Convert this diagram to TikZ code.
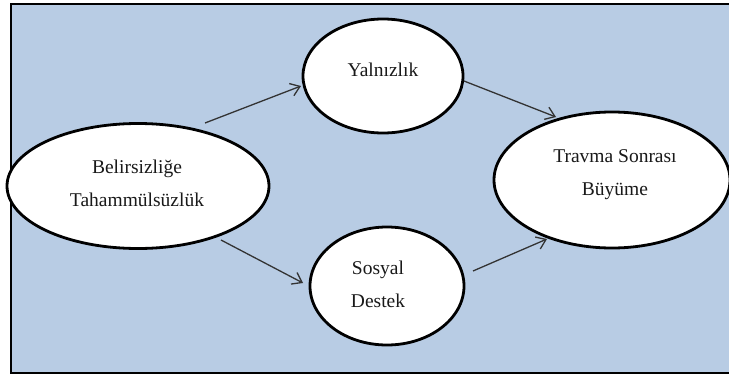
\documentclass[tikz,border=0pt]{standalone}
\usepackage{fontspec}
\setmainfont{Liberation Serif}
\usetikzlibrary{shapes.geometric,arrows.meta,calc}
\definecolor{panelblue}{HTML}{B8CCE4}
\begin{document}
\begin{tikzpicture}[x=1pt,y=-1pt,
  bubble/.style={ellipse,draw=black,line width=2.8pt,fill=white,inner sep=0pt},
  lbl/.style={align=center,font=\fontsize{19.5}{33}\selectfont,text=black!90,inner sep=0pt},
  link/.style={draw=black!80,line width=1.3pt,-{Straight Barb[length=9pt,width=13pt]}}]
\useasboundingbox (0,0) rectangle (729,378);
\begin{scope}
\clip (0,0) rectangle (729,378);
% panel
\draw[fill=panelblue,line width=2.6pt] (11,4) rectangle (760,373);
% variables
\node[bubble,minimum width=262pt,minimum height=125pt] (bel) at (138,186) {};
\node[bubble,minimum width=160pt,minimum height=114pt] (yal) at (383,76) {};
\node[bubble,minimum width=154pt,minimum height=118pt] (sos) at (387,286) {};
\node[bubble,minimum width=236pt,minimum height=136pt] (tsb) at (612,180) {};
% labels
\node[lbl] (belt) at (137,183) {Belirsizliğe\\Tahammülsüzlük};
\node[lbl] (yalt) at (383,70) {Yalnızlık};
\node[lbl] (sost) at (378,284) {Sosyal\\Destek};
\node[lbl] (tsbt) at (615,175) {Travma Sonrası\\Büyüme};
% path ends
\coordinate (a1s) at ($(bel)+(67,-63)$);
\coordinate (a1e) at ($(yal)+(-82,10)$);
\coordinate (a2s) at ($(yal)+(81,5)$);
\coordinate (a2e) at ($(tsb)+(-56,-63)$);
\coordinate (a3s) at ($(bel)+(83,54)$);
\coordinate (a3e) at ($(sos)+(-84,-3)$);
\coordinate (a4s) at ($(sos)+(86,-15)$);
\coordinate (a4e) at ($(tsb)+(-65,59)$);
% paths
\draw[link] (a1s) -- (a1e);
\draw[link] (a2s) -- (a2e);
\draw[link] (a3s) -- (a3e);
\draw[link] (a4s) -- (a4e);
\end{scope}
\end{tikzpicture}
\end{document}
